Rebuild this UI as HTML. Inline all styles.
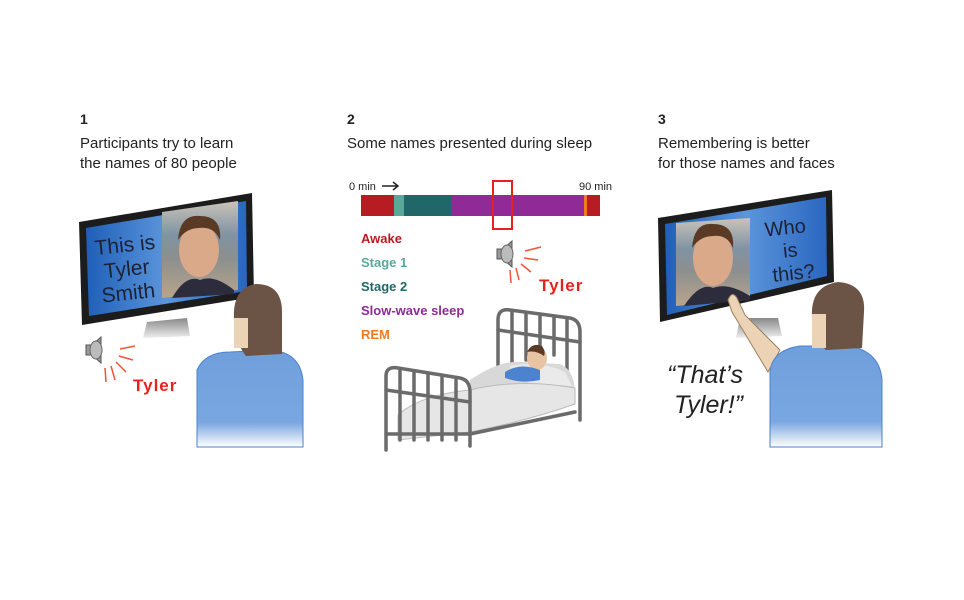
<!DOCTYPE html>
<html><head><style>
body{margin:0;background:#fff;}
svg{display:block;font-family:"Liberation Sans",sans-serif;}
</style></head><body>
<svg width="964" height="600" viewBox="0 0 964 600">
<defs>
<linearGradient id="scr" x1="0" y1="0" x2="1" y2="0"><stop offset="0" stop-color="#1f5fb8"/><stop offset="0.5" stop-color="#5b95db"/><stop offset="1" stop-color="#2a66bf"/></linearGradient>
<linearGradient id="shirt" x1="0" y1="0" x2="0" y2="1"><stop offset="0" stop-color="#6f9fdc"/><stop offset="0.75" stop-color="#7aa7e0"/><stop offset="1" stop-color="#ffffff"/></linearGradient>
<linearGradient id="photo" x1="0" y1="0" x2="0" y2="1"><stop offset="0" stop-color="#c9c3b8"/><stop offset="0.35" stop-color="#7f93a3"/><stop offset="0.6" stop-color="#8d8f8e"/><stop offset="1" stop-color="#b8a58c"/></linearGradient>
<linearGradient id="stand" x1="0" y1="0" x2="0" y2="1"><stop offset="0" stop-color="#888"/><stop offset="1" stop-color="#eee"/></linearGradient>
</defs>
<g fill="#222" font-size="15">
<text x="80" y="124" font-weight="bold" font-size="14">1</text>
<text x="80" y="148">Participants try to learn</text>
<text x="80" y="168">the names of 80 people</text>
<text x="347" y="124" font-weight="bold" font-size="14">2</text>
<text x="347" y="148">Some names presented during sleep</text>
<text x="658" y="124" font-weight="bold" font-size="14">3</text>
<text x="658" y="148">Remembering is better</text>
<text x="658" y="168">for those names and faces</text>
</g>

<!-- Panel 1 -->
<polygon points="147,322 187,318 190,336 143,338" fill="url(#stand)"/>
<polygon points="79,222 252,193 254,297 82,325" fill="#1c1c1c"/>
<polygon points="86,228 246,201 247,291 89,316" fill="url(#scr)"/>
<polygon points="162,212 238,201 238,290 162,298" fill="url(#photo)"/>
<ellipse cx="199" cy="250" rx="20" ry="27" fill="#d9a98a"/>
<path d="M178,240 Q180,214 200,216 Q222,216 220,240 Q214,226 199,228 Q186,228 178,240Z" fill="#5a3a24"/>
<path d="M172,298 Q186,274 200,280 Q214,274 234,290 L234,294 Z" fill="#2c2c3c"/>
<g font-size="21" fill="#1d2233" transform="rotate(-6 125 260)">
<text x="96" y="252">This is</text><text x="103" y="276">Tyler</text><text x="98" y="300">Smith</text></g>
<path d="M197,447 L197,370 Q205,352 230,352 L270,350 Q300,352 303,380 L303,447Z" fill="url(#shirt)" stroke="#4b83cf" stroke-width="1"/>
<path d="M234,320 Q232,288 256,284 Q282,284 282,312 L282,354 L246,356 Q236,344 234,320Z" fill="#6b5446"/>
<rect x="234" y="318" width="14" height="30" fill="#ecd3b6"/>
<g transform="translate(92,350)"><polygon points="-6,-5 0,-5 9,-13 9,13 0,5 -6,5" fill="#999" stroke="#555"/><ellipse cx="4" cy="0" rx="6" ry="9" fill="#bbb" stroke="#666"/></g>
<g stroke="#e53" stroke-width="1.5"><line x1="120" y1="349" x2="135" y2="346"/><line x1="119" y1="356" x2="133" y2="360"/><line x1="116" y1="362" x2="126" y2="372"/><line x1="111" y1="366" x2="115" y2="380"/><line x1="105" y1="368" x2="106" y2="382"/></g>
<text x="133" y="391" font-size="17" font-weight="bold" fill="#e8211d" letter-spacing="1">Tyler</text>

<!-- Panel 2 -->
<text x="349" y="190" font-size="11" fill="#222">0 min</text>
<path d="M382,186 L398,186 M393,182 L398,186 L393,190" stroke="#222" stroke-width="1.5" fill="none"/>
<text x="579" y="190" font-size="11" fill="#222">90 min</text>
<rect x="361" y="195" width="33" height="21" fill="#b71c22"/>
<rect x="394" y="195" width="10" height="21" fill="#58a99b"/>
<rect x="404" y="195" width="47" height="21" fill="#216769"/>
<rect x="451" y="195" width="133" height="21" fill="#8f2a97"/>
<rect x="584" y="195" width="3" height="21" fill="#f07b22"/>
<rect x="587" y="195" width="13" height="21" fill="#b71c22"/>
<rect x="493" y="181" width="19" height="48" fill="none" stroke="#e8211d" stroke-width="2"/>
<g font-size="13" font-weight="bold">
<text x="361" y="243" fill="#b71c22">Awake</text>
<text x="361" y="267" fill="#58a99b">Stage 1</text>
<text x="361" y="291" fill="#216769">Stage 2</text>
<text x="361" y="315" fill="#8f2a97">Slow-wave sleep</text>
<text x="361" y="339" fill="#f07b22">REM</text></g>
<g transform="translate(503,254)"><polygon points="-6,-5 0,-5 9,-13 9,13 0,5 -6,5" fill="#999" stroke="#555"/><ellipse cx="4" cy="0" rx="6" ry="9" fill="#bbb" stroke="#666"/></g>
<g stroke="#e53" stroke-width="1.5"><line x1="525" y1="251" x2="541" y2="247"/><line x1="524" y1="258" x2="538" y2="260"/><line x1="521" y1="264" x2="531" y2="272"/><line x1="516" y1="268" x2="519" y2="280"/><line x1="510" y1="270" x2="511" y2="283"/></g>
<text x="539" y="291" font-size="17" font-weight="bold" fill="#e8211d" letter-spacing="1">Tyler</text>
<!-- bed -->
<g stroke="#6b6b6b" stroke-width="3.5" fill="none" stroke-linecap="round">
<path d="M498,420 L498,320 Q498,308 510,310 L570,318 Q580,320 580,332 L580,420"/>
<line x1="498" y1="330" x2="580" y2="342"/>
<line x1="512" y1="312" x2="512" y2="390"/><line x1="526" y1="314" x2="526" y2="360"/><line x1="540" y1="316" x2="540" y2="350"/><line x1="554" y1="318" x2="554" y2="355"/><line x1="567" y1="320" x2="567" y2="390"/>
</g>
<path d="M470,380 Q500,360 520,362 L560,364 Q575,370 575,395 L575,405 L470,425Z" fill="#d8d8d8"/>
<path d="M510,366 Q540,360 565,372 L572,386 Q540,384 512,380Z" fill="#eaeaea"/>
<ellipse cx="537" cy="358" rx="10" ry="12" fill="#e8c4a4"/>
<path d="M527,352 Q532,342 542,346 Q546,352 544,356 Q536,350 527,352Z" fill="#5a3a24"/>
<path d="M505,372 Q520,362 540,370 L540,380 Q522,384 505,378Z" fill="#4b83cf"/>
<path d="M398,415 Q420,395 470,390 Q520,378 575,388 L575,404 Q530,420 470,432 L398,440Z" fill="#e6e6e6" stroke="#bbb"/>
<g stroke="#6b6b6b" stroke-width="3.5" fill="none" stroke-linecap="round">
<path d="M386,450 L386,376 Q386,366 398,368 L460,378 Q470,380 470,392 L470,446"/>
<line x1="386" y1="390" x2="470" y2="402"/>
<line x1="400" y1="370" x2="400" y2="440"/><line x1="414" y1="372" x2="414" y2="440"/><line x1="428" y1="374" x2="428" y2="440"/><line x1="442" y1="376" x2="442" y2="440"/><line x1="456" y1="378" x2="456" y2="440"/>
<line x1="386" y1="434" x2="470" y2="434"/>
<line x1="470" y1="434" x2="575" y2="412"/>
</g>

<!-- Panel 3 -->
<polygon points="740,318 778,318 782,336 736,338" fill="url(#stand)"/>
<polygon points="658,218 832,190 834,282 660,322" fill="#1c1c1c"/>
<polygon points="665,224 826,197 827,276 667,315" fill="url(#scr)"/>
<polygon points="676,223 750,218 750,300 676,306" fill="url(#photo)"/>
<ellipse cx="713" cy="258" rx="20" ry="28" fill="#d9a98a"/>
<path d="M692,248 Q694,222 713,224 Q735,224 733,248 Q727,234 713,236 Q700,236 692,248Z" fill="#5a3a24"/>
<path d="M684,306 Q700,282 713,288 Q728,282 750,296 L750,300Z" fill="#2c2c3c"/>
<g font-size="20" fill="#1d2233" transform="rotate(-6 790 250)">
<text x="767" y="234">Who</text><text x="783" y="257">is</text><text x="770" y="280">this?</text></g>
<path d="M780,350 L745,315 L737,298 Q732,290 728,300 L732,312 L768,372 Z" fill="#ecd3b6" stroke="#9a8060" stroke-width="1"/>
<path d="M770,447 L770,372 Q772,350 800,346 L850,346 Q880,352 882,380 L882,447Z" fill="url(#shirt)" stroke="#4b83cf" stroke-width="1"/>
<path d="M812,318 Q810,286 838,282 Q866,284 864,312 L862,348 L826,350 Q814,340 812,318Z" fill="#6b5446"/>
<rect x="812" y="314" width="14" height="34" fill="#ecd3b6"/>
<g font-size="25" font-style="italic" fill="#222"><text x="667" y="383">“That’s</text><text x="674" y="413">Tyler!”</text></g>
</svg>
</body></html>
